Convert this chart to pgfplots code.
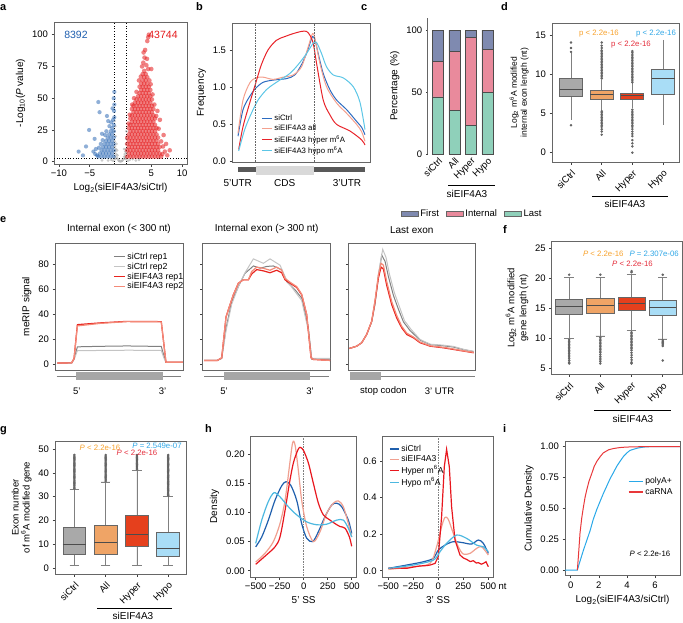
\documentclass[border=0pt]{standalone}
\usepackage{fontspec}
\setmainfont{Liberation Sans}
\usepackage{pgfplots}
\pgfplotsset{compat=1.18}
\usepgfplotslibrary{statistics}

\definecolor{cRed}{HTML}{E41A1C}
\definecolor{cBlue}{HTML}{1F5FAF}
\definecolor{cGray}{HTML}{A8A8A8}
\definecolor{bBlue}{HTML}{2C6BC0}
\definecolor{bSalmon}{HTML}{F4A08E}
\definecolor{bRed}{HTML}{E8232A}
\definecolor{bCyan}{HTML}{5CC6E6}
\definecolor{cFirst}{HTML}{7F8AB0}
\definecolor{cInternal}{HTML}{E98A9C}
\definecolor{cLast}{HTML}{8FD0BA}
\definecolor{bxGray}{HTML}{A9A9A9}
\definecolor{bxOrange}{HTML}{EFA466}
\definecolor{bxRed}{HTML}{E5401D}
\definecolor{bxBlue}{HTML}{A9DDF6}
\definecolor{pOrange}{HTML}{F7A12B}
\definecolor{pRed}{HTML}{E42D3B}
\definecolor{pCyan}{HTML}{2EA6E6}
\definecolor{eG1}{HTML}{808080}
\definecolor{eG2}{HTML}{C4C4C4}
\definecolor{eR1}{HTML}{E8231E}
\definecolor{eR2}{HTML}{F48A78}
\definecolor{hBlue}{HTML}{1F5FAD}
\definecolor{hSalmon}{HTML}{F0A090}
\definecolor{hRed}{HTML}{E8171E}
\definecolor{hCyan}{HTML}{4DB8E0}
\definecolor{iBlue}{HTML}{29A8E8}
\definecolor{iRed}{HTML}{E8383A}

\newcommand\ft[2]{\fontsize{#1}{#2}\selectfont}

\pgfplotsset{
  base/.style={scale only axis, anchor=north west, tick align=outside, tick pos=left,
    major tick length=2.5pt,
    axis line style={line width=0.8pt, black!60},
    tick style={black!75, line width=0.6pt},
    tick label style={font=\ft{9.5}{11}},
    label style={font=\ft{10}{12}},
    title style={font=\ft{10}{12}},
    /pgf/number format/assume math mode=true,
    legend cell align=left,
  },
  bp/.style={boxplot/draw direction=y,
     boxplot/every whisker/.style={black!50, line width=0.8pt},
     boxplot/every median/.style={black!70, line width=1pt}},
  om/.style={mark=*, mark size=0.8pt, mark options={draw=none, fill=black}},
}

\begin{document}
\begin{tikzpicture}
\path[use as bounding box] (0,0) rectangle (683pt,-622pt);

% ---------------- a ----------------
\begin{axis}[base, at={(54pt,-22pt)}, width=133pt, height=142pt,
  xmin=-10.8, xmax=10.8, ymin=-1.8, ymax=110,
  xtick={-10,-5,5,10}, xticklabels={−10,−5,5,10},
  ytick={0,25,50,75,100},
  xlabel={Log\textsubscript{2}(siEIF4A3/siCtrl)},
  ylabel={-Log\textsubscript{10}(\textit{P} value)}]
\addplot[only marks, color=cGray, mark=*, mark size=1.5pt, mark options={fill opacity=0.6, draw opacity=0}] coordinates {
(-0.9,4)(-0.85,8)(-0.9,12)(-0.95,16)(-0.8,20)(-0.7,6)(-0.75,10)(-0.6,3)(-0.5,5)(-0.65,14)(-0.4,2)(-0.3,1)(0.3,1)(0.5,2)(0.6,4)(0.7,6)(0.8,8)(0.9,10)(0.85,4)(0.95,7)(0.9,14)(0.75,3)(-0.2,0.5)(0.2,0.5)(0,0.2)(-1.5,1.5)(-2,1)(1.5,1.5)(2,2)(2.5,1)(3,1.5)(-3,1)(1.2,0.8)(-1.2,0.8)(0.95,18)(-0.95,24)(-0.85,28)(-0.9,2)(0.9,2)(-0.55,9)(0.6,10)(-0.95,32)(0.95,24)};
\addplot[only marks, color=cBlue, mark=*, mark size=2.1pt, mark options={fill opacity=0.5, draw opacity=0}] coordinates {
(-1.1,4)(-1.1,9)(-1.1,14)(-1.1,19)(-1.1,24)(-1.1,29)
(-1.35,6.5)(-1.35,11.5)(-1.35,16.5)(-1.35,21.5)(-1.35,26.5)
(-1.6,4)(-1.6,9)(-1.6,14)(-1.6,19)(-1.6,24)
(-1.85,6.5)(-1.85,11.5)(-1.85,16.5)(-1.85,21.5)
(-2.1,4)(-2.1,9)(-2.1,14)(-2.1,19)
(-2.35,6.5)(-2.35,11.5)(-2.35,16.5)
(-2.6,4)(-2.6,9)(-2.6,14)
(-2.85,6.5)(-2.85,11.5)
(-3.1,4)(-3.1,9)(-3.35,6.5)(-3.6,4)
(-1.0,35)(-1.05,40)(-1.0,45)(-1.1,50)(-1.0,55)(-1.2,33)(-1.5,31)(-1.8,28)(-2.0,32)(-2.3,24)(-2.5,21)(-2.9,17)(-3.2,14)(-3.5,11)(-4.0,10)(-4.4,8)(-3.6,47)(-3.4,39)(-4.1,6)(-5.1,25)(-5.6,12)(-6.1,5)(-6.8,8)(-2.2,36)(-1.3,42)(-3.0,22)(-4.2,18)(-3.8,5)};
\addplot[only marks, color=cRed, mark=*, mark size=2.3pt, mark options={fill opacity=0.55, draw opacity=0}] coordinates {
(1.1,4)(1.1,9)(1.1,14)(1.1,19)
(1.35,6.5)(1.35,11.5)(1.35,16.5)(1.35,21.5)(1.35,26.5)
(1.6,4)(1.6,9)(1.6,14)(1.6,19)(1.6,24)(1.6,29)(1.6,34)
(1.85,6.5)(1.85,11.5)(1.85,16.5)(1.85,21.5)(1.85,26.5)(1.85,31.5)(1.85,36.5)(1.85,41.5)
(2.1,4)(2.1,9)(2.1,14)(2.1,19)(2.1,24)(2.1,29)(2.1,34)(2.1,39)(2.1,44)
(2.35,6.5)(2.35,11.5)(2.35,16.5)(2.35,21.5)(2.35,26.5)(2.35,31.5)(2.35,36.5)(2.35,41.5)(2.35,46.5)
(2.6,4)(2.6,9)(2.6,14)(2.6,19)(2.6,24)(2.6,29)(2.6,34)(2.6,39)(2.6,44)(2.6,49)
(2.85,6.5)(2.85,11.5)(2.85,16.5)(2.85,21.5)(2.85,26.5)(2.85,31.5)(2.85,36.5)(2.85,41.5)(2.85,46.5)(2.85,51.5)
(3.1,4)(3.1,9)(3.1,14)(3.1,19)(3.1,24)(3.1,29)(3.1,34)(3.1,39)(3.1,44)(3.1,49)(3.1,54)(3.1,59)
(3.35,6.5)(3.35,11.5)(3.35,16.5)(3.35,21.5)(3.35,26.5)(3.35,31.5)(3.35,36.5)(3.35,41.5)(3.35,46.5)(3.35,51.5)(3.35,56.5)(3.35,61.5)
(3.6,4)(3.6,9)(3.6,14)(3.6,19)(3.6,24)(3.6,29)(3.6,34)(3.6,39)(3.6,44)(3.6,49)(3.6,54)(3.6,59)(3.6,64)(3.6,69)
(3.85,6.5)(3.85,11.5)(3.85,16.5)(3.85,21.5)(3.85,26.5)(3.85,31.5)(3.85,36.5)(3.85,41.5)(3.85,46.5)(3.85,51.5)(3.85,56.5)(3.85,61.5)(3.85,66.5)(3.85,71.5)
(4.1,4)(4.1,9)(4.1,14)(4.1,19)(4.1,24)(4.1,29)(4.1,34)(4.1,39)(4.1,44)(4.1,49)(4.1,54)(4.1,59)(4.1,64)(4.1,69)
(4.35,6.5)(4.35,11.5)(4.35,16.5)(4.35,21.5)(4.35,26.5)(4.35,31.5)(4.35,36.5)(4.35,41.5)(4.35,46.5)(4.35,51.5)(4.35,56.5)(4.35,61.5)(4.35,66.5)
(4.6,4)(4.6,9)(4.6,14)(4.6,19)(4.6,24)(4.6,29)(4.6,34)(4.6,39)(4.6,44)(4.6,49)(4.6,54)(4.6,59)
(4.85,6.5)(4.85,11.5)(4.85,16.5)(4.85,21.5)(4.85,26.5)(4.85,31.5)(4.85,36.5)(4.85,41.5)(4.85,46.5)(4.85,51.5)(4.85,56.5)
(5.1,4)(5.1,9)(5.1,14)(5.1,19)(5.1,24)(5.1,29)(5.1,34)(5.1,39)(5.1,44)(5.1,49)
(5.35,6.5)(5.35,11.5)(5.35,16.5)(5.35,21.5)(5.35,26.5)(5.35,31.5)(5.35,36.5)(5.35,41.5)
(5.6,4)(5.6,9)(5.6,14)(5.6,19)(5.6,24)(5.6,29)(5.6,34)
(5.85,6.5)(5.85,11.5)(5.85,16.5)(5.85,21.5)(5.85,26.5)
(6.1,4)(6.1,9)(6.1,14)(6.1,19)
(6.35,6.5)(6.35,11.5)(6.6,4)
(1.3,30)(1.5,37)(1.9,45)(2.2,50)(2.6,55)(3.0,64)(3.3,67)(3.5,75)(3.7,78)(3.75,86)(3.9,82)(4.0,88)(4.2,76)(4.3,81)(4.5,73)(4.7,64)(4.9,61)(5.0,73)(5.2,53)(5.5,45)(5.8,36)(6.0,40)(6.2,26)(6.4,33)(6.6,16)(6.9,12)(7.0,21)(7.2,8)(7.6,5)(8.0,9)(4.5,98)(4.6,100)(4.35,95)(7.4,14)(6.8,6)};
\addplot[only marks, color=cRed, mark=*, mark size=1.2pt, mark options={fill opacity=0.8, draw opacity=0}] coordinates {
(3.7,110.6)(4.0,110.6)(4.3,110.6)(4.6,110.6)(4.9,110.6)(5.2,110.6)(5.5,110.6)(5.8,110.6)(6.1,110.6)(6.4,110.6)(6.7,110.6)(7.0,110.6)(7.3,110.6)};
\draw[dotted, line width=0.7pt] (axis cs:-1,-1.8) -- (axis cs:-1,110);
\draw[dotted, line width=0.7pt] (axis cs:1,-1.8) -- (axis cs:1,110);
\draw[dotted, line width=0.7pt] (axis cs:-10.8,3) -- (axis cs:10.8,3);
\end{axis}
\node[font=\ft{10.5}{12}, text=cBlue] at (76pt,-35pt) {8392};
\node[font=\ft{10.5}{12}, text=cRed] at (163pt,-35pt) {43744};

% ---------------- b ----------------
\begin{axis}[base, at={(232pt,-23pt)}, width=138pt, height=139pt,
  xmin=187, xmax=600, ymin=-0.01, ymax=1.874,
  xtick=\empty, ytick={0,0.5,1,1.5}, yticklabels={0.0,0.5,1.0,1.5},
  ylabel={Frequency}, clip=false,
  legend style={at={(0.19,0.367)}, anchor=north west, draw=none, fill=none, font=\ft{7.8}{9}, row sep=-1pt},
  legend image code/.code={\draw[#1, line width=1pt] (0pt,0pt) -- (10pt,0pt);}]
\addplot[bBlue, line width=1pt, smooth] coordinates {(205,0.34)(220,0.70)(240,0.88)(258,0.99)(280,1.07)(310,1.10)(350,1.12)(375,1.17)(395,1.31)(410,1.46)(422,1.62)(428,1.69)(435,1.65)(445,1.46)(460,1.19)(480,0.97)(500,0.83)(530,0.70)(560,0.54)(575,0.46)(585,0.36)};
\addlegendentry{siCtrl}
\addplot[bSalmon, line width=1pt, smooth] coordinates {(205,0.38)(220,0.83)(240,1.06)(258,1.13)(280,1.14)(310,1.11)(340,1.14)(370,1.17)(395,1.28)(415,1.55)(428,1.73)(435,1.67)(450,1.33)(470,1.01)(500,0.79)(530,0.65)(560,0.50)(575,0.40)(585,0.27)};
\addlegendentry{siEIF4A3 all}
\addplot[bRed, line width=1pt, smooth] coordinates {(207,0.16)(220,0.47)(240,0.79)(258,1.06)(275,1.31)(295,1.51)(320,1.64)(345,1.69)(370,1.73)(395,1.76)(410,1.76)(420,1.71)(430,1.60)(440,1.33)(460,0.83)(480,0.63)(500,0.50)(540,0.41)(575,0.29)(585,0.22)};
\addlegendentry{siEIF4A3 hyper m\textsuperscript{6}A}
\addplot[bCyan, line width=1pt, smooth] coordinates {(207,0.14)(225,0.43)(245,0.65)(265,0.83)(290,0.97)(310,1.04)(330,1.10)(360,1.19)(385,1.31)(410,1.46)(430,1.60)(440,1.61)(455,1.46)(470,1.28)(490,1.17)(520,1.13)(550,1.01)(570,0.80)(585,0.43)};
\addlegendentry{siEIF4A3 hypo m\textsuperscript{6}A}
\draw[densely dotted, black!60, line width=0.6pt] (axis cs:258,-0.01) -- (axis cs:258,1.874);
\draw[densely dotted, black!60, line width=0.6pt] (axis cs:432,-0.01) -- (axis cs:432,1.874);
\draw[line width=4.5pt, black!65] (axis cs:205,-0.112) -- (axis cs:585,-0.112);
\fill[black!15] (axis cs:258,-0.058) rectangle (axis cs:432,-0.19);
\node[font=\ft{10}{12}] at (axis cs:204,-0.29) {5'UTR};
\node[font=\ft{10}{12}] at (axis cs:345,-0.29) {CDS};
\node[font=\ft{10}{12}] at (axis cs:531,-0.29) {3'UTR};
\end{axis}

% ---------------- c ----------------
\begin{axis}[base, at={(427pt,-18pt)}, width=68pt, height=136pt,
  xmin=0.34, xmax=4.45, ymin=0, ymax=109.7,
  separate axis lines, axis x line=bottom, axis y line=left,
  x axis line style={draw=none}, y axis line style={-},
  ybar stacked, bar width=11.3pt,
  xtick={1,2,3,4}, xticklabels={siCtrl,All,Hyper,Hypo},
  xticklabel style={rotate=45, anchor=north east, inner sep=1pt},
  ytick={0,50,100},
  ylabel={Percentage (\%)},
  legend style={at={(-0.43,-0.44)}, anchor=west, draw=none, fill=none, legend columns=3, font=\ft{9.5}{11}, /tikz/every even column/.append style={column sep=5pt}}]
\addlegendimage{area legend, fill=cFirst, draw=black!60}\addlegendentry{First}
\addlegendimage{area legend, fill=cInternal, draw=black!60}\addlegendentry{Internal}
\addlegendimage{area legend, fill=cLast, draw=black!60}\addlegendentry{Last}
\addplot[fill=cLast, draw=black!70] coordinates {(1,46)(2,35)(3,23)(4,50)};
\addplot[fill=cInternal, draw=black!70] coordinates {(1,29)(2,48)(3,71)(4,34.5)};
\addplot[fill=cFirst, draw=black!70] coordinates {(1,25)(2,17)(3,6)(4,15.5)};
\end{axis}

% ---------------- d ----------------
\begin{axis}[base, bp, at={(552pt,-23pt)}, width=127pt, height=139pt,
  xmin=0.38, xmax=4.52, ymin=-1.2, ymax=16.6,
  xtick={1,2,3,4}, xticklabels={siCtrl,All,Hyper,Hypo}, xticklabel style={rotate=45, anchor=north east},
  ytick={0,5,10,15},
  ylabel={Log\textsubscript{2} m\textsuperscript{6}A modified\\internal exon length (nt)}, ylabel style={align=center, font=\ft{8.5}{10}},
  boxplot/box extend=0.75, boxplot/whisker extend=0]
\addplot[draw=black!60, fill=bxGray, line width=0.8pt, om,
  boxplot prepared={draw position=1, median=8.03, upper quartile=9.49, lower quartile=7.18, upper whisker=12.7, lower whisker=4.19}]
  table[row sep=\\, y index=0] {12.9\\13.4\\14.1\\3.5\\};
\addplot[draw=black!60, fill=bxOrange, line width=0.8pt, om,
  boxplot prepared={draw position=2, median=7.39, upper quartile=7.95, lower quartile=6.88, upper whisker=9.32, lower whisker=5.47}]
  table[row sep=\\, y index=0] {9.5\\9.7\\9.9\\10.1\\10.3\\10.5\\10.7\\10.9\\11.1\\11.3\\11.5\\11.7\\11.9\\12.1\\12.3\\12.5\\12.7\\12.9\\13.1\\13.4\\13.7\\14.1\\5.3\\5.1\\4.9\\4.7\\4.5\\4.3\\4.1\\3.9\\3.7\\3.5\\3.3\\3.0\\2.7\\2.3\\};
\addplot[draw=black!60, fill=bxRed, line width=0.8pt, om,
  boxplot prepared={draw position=3, median=7.26, upper quartile=7.61, lower quartile=6.84, upper whisker=8.89, lower whisker=5.68}]
  table[row sep=\\, y index=0] {9.0\\9.2\\9.4\\9.6\\9.8\\10.0\\10.2\\10.4\\10.6\\10.8\\11.0\\11.2\\11.4\\11.6\\11.8\\12.0\\12.2\\12.4\\12.6\\12.8\\13.0\\5.5\\5.3\\5.1\\4.9\\4.7\\4.5\\4.3\\4.1\\3.9\\3.7\\3.5\\3.3\\3.0\\2.7\\2.4\\2.1\\1.6\\1.2\\0.8\\0.0\\};
\addplot[draw=black!60, fill=bxBlue, line width=0.8pt, om,
  boxplot prepared={draw position=4, median=9.53, upper quartile=10.68, lower quartile=7.52, upper whisker=14.44, lower whisker=3.55}]
  coordinates {};
\end{axis}
\node[font=\ft{7.8}{9}, text=pOrange] at (599pt,-33.3pt) {p < 2.2e-16};
\node[font=\ft{7.8}{9}, text=pRed] at (631pt,-45pt) {p < 2.2e-16};
\node[font=\ft{7.8}{9}, text=pCyan] at (656pt,-33.3pt) {p < 2.2e-16};

% ---------------- e ----------------
\begin{axis}[base, at={(55pt,-243pt)}, width=128pt, height=127pt,
  xmin=165, xmax=548, ymin=-4.2, ymax=96.6, xtick=\empty, ytick={0,20,40,60,80},
  ylabel={meRIP signal}, title={Internal exon (< 300 nt)}, clip=false,
  legend style={at={(0.43,0.955)}, anchor=north west, draw=none, fill=none, font=\ft{8.8}{10}, row sep=-2pt},
  legend image code/.code={\draw[#1] (0pt,0pt) -- (11pt,0pt);}]
\addplot[eG1, line width=1pt] coordinates {(172,1.3)(215,1.5)(222,4.5)(232,14.2)(300,14.6)(380,14.9)(483,14.5)(490,8)(497,1.8)(548,1.8)};
\addlegendentry{siCtrl rep1}
\addplot[eG2, line width=1pt] coordinates {(172,1.3)(215,1.5)(222,4)(232,11.2)(300,11.3)(380,11.5)(483,11.4)(490,6)(497,1.8)(548,1.8)};
\addlegendentry{siCtrl rep2}
\addplot[eR1, line width=1.2pt] coordinates {(172,1.3)(215,1.5)(222,5)(232,31.8)(300,33.2)(380,34.4)(483,34.2)(497,1.9)(548,1.9)};
\addlegendentry{siEIF4A3 rep1}
\addplot[eR2, line width=1.2pt] coordinates {(172,1.3)(215,1.5)(222,5)(232,30.8)(300,32.8)(380,34.2)(483,34.0)(497,2.0)(548,2.0)};
\addlegendentry{siEIF4A3 rep2}
\draw[black!50, line width=0.8pt] (axis cs:170,-9.2) -- (axis cs:543,-9.2);
\fill[black!35] (axis cs:228,-6.1) rectangle (axis cs:487,-12.4);
\node[font=\ft{9.5}{11}] at (axis cs:230,-21) {5'};
\node[font=\ft{9.5}{11}] at (axis cs:487,-21) {3'};
\end{axis}

\begin{axis}[base, at={(202.7pt,-243pt)}, width=128pt, height=127pt,
  xmin=608, xmax=992, ymin=-4.2, ymax=96.6, xtick=\empty, ytick={0,20,40,60,80}, yticklabels={},
  title={Internal exon (> 300 nt)}, clip=false]
\addplot[eG1, line width=1pt] coordinates {(612,3.4)(652,3.4)(665,5)(678,29)(695,50)(715,62)(735,72.6)(750,76)(760,78.4)(780,76.6)(800,78)(820,78.4)(845,75.3)(860,66)(885,59.5)(905,52.9)(925,29.2)(935,4.5)(990,4.5)};
\addplot[eG2, line width=1pt] coordinates {(612,3.4)(652,3.4)(665,5)(678,27)(695,48)(715,62)(735,73)(760,84)(790,80.5)(810,84)(840,79)(860,67)(885,58)(905,51)(925,27)(935,5)(990,5)};
\addplot[eR1, line width=1.2pt] coordinates {(612,3.4)(652,3.4)(665,5.5)(678,38)(690,47.6)(700,55.5)(715,64.7)(730,67.4)(745,67.4)(755,72)(770,75.5)(790,74.5)(810,73)(830,75)(845,73)(855,67.4)(870,64.7)(890,61.3)(905,55.5)(920,39.7)(933,5.5)(940,4.2)(990,3.4)};
\addplot[eR2, line width=1.2pt] coordinates {(612,3.4)(652,3.4)(665,5.5)(678,38)(690,47.6)(700,55.5)(715,64.7)(730,67.4)(745,67.4)(755,74)(770,77.5)(790,76.5)(810,75)(830,77.5)(845,75)(855,68.5)(870,65.5)(890,62)(905,56)(920,40)(933,5.5)(940,4.2)(990,3.4)};
\draw[black!50, line width=0.8pt] (axis cs:613,-9.2) -- (axis cs:987,-9.2);
\fill[black!35] (axis cs:672,-6.1) rectangle (axis cs:930,-12.4);
\node[font=\ft{9.5}{11}] at (axis cs:672,-21) {5'};
\node[font=\ft{9.5}{11}] at (axis cs:930,-21) {3'};
\end{axis}

\begin{axis}[base, at={(348.3pt,-243pt)}, width=127pt, height=127pt,
  xmin=1045, xmax=1425, ymin=-4.2, ymax=96.6, xtick=\empty, ytick={0,20,40,60,80}, yticklabels={},
  title={Last exon}, clip=false]
\addplot[eG1, line width=1pt] coordinates {(1048,12.9)(1070,14.7)(1085,17.4)(1100,24)(1115,34)(1125,48)(1135,70)(1145,87)(1155,82)(1165,70)(1180,55)(1195,44)(1210,34)(1230,27)(1260,19.5)(1290,16)(1330,15)(1360,14)(1390,12)(1420,10.5)};
\addplot[eG2, line width=1pt] coordinates {(1048,12.9)(1070,14.7)(1085,17.4)(1100,24)(1115,34)(1125,49)(1135,72)(1148,91.6)(1158,85)(1168,72)(1183,57)(1198,46)(1213,35)(1233,28)(1260,20)(1290,16.3)(1330,15.5)(1360,14.5)(1390,12.2)(1420,10.6)};
\addplot[eR1, line width=1.2pt] coordinates {(1048,12.9)(1070,14.7)(1085,17.4)(1100,24)(1115,34.5)(1125,50)(1135,68.7)(1143,77.5)(1150,76)(1160,63)(1175,47.6)(1190,37)(1205,29.2)(1220,24)(1240,21.3)(1260,17.4)(1290,14.7)(1330,13.4)(1360,12.1)(1390,10.8)(1420,9.5)};
\addplot[eR2, line width=1.2pt] coordinates {(1048,12.9)(1070,14.7)(1085,17.4)(1100,24)(1115,34.5)(1125,51)(1135,71)(1143,80.5)(1150,79)(1160,66)(1175,50)(1190,39)(1205,30.5)(1220,25)(1240,22)(1260,18)(1290,15)(1330,13.8)(1360,12.5)(1390,11)(1420,9.8)};
\draw[black!50, line width=0.8pt] (axis cs:1143,-9.2) -- (axis cs:1425,-9.2);
\fill[black!35] (axis cs:1050,-6.1) rectangle (axis cs:1143,-12.4);
\node[font=\ft{9.5}{11}] at (axis cs:1150,-21) {stop codon};
\node[font=\ft{9.5}{11}] at (axis cs:1318,-21) {3' UTR};
\end{axis}

% ---------------- f ----------------
\begin{axis}[base, bp, at={(551.7pt,-241.7pt)}, width=131pt, height=132.6pt,
  xmin=0.44, xmax=4.64, ymin=4.0, ymax=26.1,
  xtick={1,2,3,4}, xticklabels={siCtrl,All,Hyper,Hypo}, xticklabel style={rotate=45, anchor=north east},
  ytick={5,10,15,20,25},
  ylabel={Log\textsubscript{2} m\textsuperscript{6}A modified\\gene length (nt)}, ylabel style={align=center, font=\ft{9.5}{12}},
  boxplot/box extend=0.87, boxplot/whisker extend=0.3]
\addplot[draw=black!60, fill=bxGray, line width=0.8pt, om,
  boxplot prepared={draw position=1, median=15.28, upper quartile=16.5, lower quartile=14.06, upper whisker=20.2, lower whisker=10.0}]
  table[row sep=\\, y index=0] {20.6\\9.75\\9.5\\9.25\\9.0\\8.75\\8.5\\8.25\\8.0\\7.75\\7.5\\7.2\\6.9\\6.6\\6.3\\6.0\\5.8\\};
\addplot[draw=black!60, fill=bxOrange, line width=0.8pt, om,
  boxplot prepared={draw position=2, median=15.39, upper quartile=16.67, lower quartile=14.17, upper whisker=20.2, lower whisker=10.4}]
  table[row sep=\\, y index=0] {20.6\\10.1\\9.85\\9.6\\9.35\\9.1\\8.85\\8.6\\8.35\\8.1\\7.85\\7.6\\7.3\\7.0\\6.7\\6.4\\6.1\\5.8\\};
\addplot[draw=black!60, fill=bxRed, line width=0.8pt, om,
  boxplot prepared={draw position=3, median=15.72, upper quartile=16.83, lower quartile=14.6, upper whisker=20.6, lower whisker=11.3}]
  table[row sep=\\, y index=0] {21.0\\21.2\\11.0\\10.75\\10.5\\10.25\\10.0\\9.75\\9.5\\9.25\\9.0\\8.75\\8.5\\8.25\\8.0\\7.6\\7.2\\6.8\\6.4\\6.0\\5.8\\};
\addplot[draw=black!60, fill=bxBlue, line width=0.8pt, om,
  boxplot prepared={draw position=4, median=15.1, upper quartile=16.4, lower quartile=13.8, upper whisker=20.2, lower whisker=9.9}]
  table[row sep=\\, y index=0] {20.6\\9.7\\9.5\\9.3\\9.1\\8.9\\8.7\\6.3\\};
\end{axis}
\node[font=\ft{7.8}{9}, text=pOrange] at (603.3pt,-254.3pt) {\textit{P} < 2.2e-16};
\node[font=\ft{7.8}{9}, text=pCyan, anchor=west] at (626pt,-254.3pt) {\textit{P} = 2.307e-06};
\node[font=\ft{7.8}{9}, text=pRed] at (632.5pt,-264.3pt) {\textit{P} < 2.2e-16};

% ---------------- g ----------------
\begin{axis}[base, bp, at={(55pt,-441pt)}, width=131pt, height=133pt,
  xmin=0.38, xmax=4.57, ymin=-2.4, ymax=53.35,
  xtick={1,2,3,4}, xticklabels={siCtrl,All,Hyper,Hypo}, xticklabel style={rotate=45, anchor=north east},
  ytick={0,10,20,30,40,50},
  ylabel={Exon number\\of m\textsuperscript{6}A modified gene}, ylabel style={align=center, font=\ft{9.5}{11}},
  boxplot/box extend=0.73, boxplot/whisker extend=0.3]
\addplot[draw=black!60, fill=bxGray, line width=0.8pt, om,
  boxplot prepared={draw position=1, median=10.05, upper quartile=17.0, lower quartile=6.0, upper whisker=33.1, lower whisker=1.1}]
  table[row sep=\\, y index=0] {33.5\\34\\34.5\\35\\35.5\\36\\36.5\\37\\37.5\\38\\38.5\\39\\39.5\\40\\40.5\\41\\41.5\\42\\42.5\\43\\43.5\\44\\44.5\\45\\45.5\\46\\46.5\\47\\47.5\\};
\addplot[draw=black!60, fill=bxOrange, line width=0.8pt, om,
  boxplot prepared={draw position=2, median=11.0, upper quartile=18.0, lower quartile=6.0, upper whisker=36.2, lower whisker=1.1}]
  table[row sep=\\, y index=0] {36.5\\37\\37.5\\38\\38.5\\39\\39.5\\40\\40.5\\41\\41.5\\42\\42.5\\43\\43.5\\44\\44.5\\45\\45.5\\46\\46.5\\47\\47.5\\};
\addplot[draw=black!60, fill=bxRed, line width=0.8pt, om,
  boxplot prepared={draw position=3, median=14.1, upper quartile=22.1, lower quartile=9.1, upper whisker=40.9, lower whisker=1.1}]
  table[row sep=\\, y index=0] {41.5\\42\\42.5\\43\\43.5\\44\\44.5\\45\\45.5\\46\\46.5\\47\\47.5\\};
\addplot[draw=black!60, fill=bxBlue, line width=0.8pt, om,
  boxplot prepared={draw position=4, median=8.1, upper quartile=15.1, lower quartile=5.0, upper whisker=30.2, lower whisker=1.1}]
  table[row sep=\\, y index=0] {30.5\\31\\31.5\\32\\32.5\\33\\33.5\\34\\34.5\\35\\35.5\\36\\36.5\\37\\37.5\\38\\38.5\\39\\39.5\\40\\40.5\\41\\41.5\\42\\42.5\\43\\43.5\\44\\44.5\\45\\45.5\\46\\46.5\\47\\47.5\\};
\end{axis}
\node[font=\ft{7.8}{9}, text=pOrange] at (100pt,-448.3pt) {\textit{P} < 2.2e-16};
\node[font=\ft{7.8}{9}, text=pCyan] at (157pt,-445.7pt) {\textit{P} = 2.549e-07};
\node[font=\ft{7.8}{9}, text=pRed] at (137pt,-453.3pt) {\textit{P} < 2.2e-16};

% ---------------- h ----------------
\begin{axis}[base, at={(250.7pt,-436pt)}, width=106pt, height=141.3pt,
  xmin=-552, xmax=552, ymin=-0.0113, ymax=0.2315,
  xtick={-500,-250,0,250,500}, xticklabels={−500,−250,0,250,500},
  ytick={0,0.05,0.1,0.15,0.2}, yticklabels={0.00,0.05,0.10,0.15,0.20},
  xlabel={5' SS}, ylabel={Density}]
\draw[densely dotted, black!50, line width=0.6pt] (axis cs:0,-0.0113) -- (axis cs:0,0.2315);
\addplot[hBlue, line width=1.2pt, smooth] coordinates {(-500,0.041)(-437,0.058)(-368,0.087)(-299,0.121)(-229,0.146)(-184,0.153)(-135,0.147)(-73,0.121)(-21,0.081)(31,0.056)(94,0.050)(153,0.067)(222,0.093)(292,0.113)(344,0.116)(396,0.110)(465,0.087)(500,0.064)};
\addplot[hSalmon, line width=1.2pt, smooth] coordinates {(-500,0.015)(-403,0.030)(-316,0.050)(-247,0.081)(-194,0.121)(-149,0.179)(-115,0.220)(-90,0.216)(-56,0.173)(-21,0.121)(31,0.076)(101,0.050)(170,0.067)(240,0.099)(309,0.116)(361,0.120)(413,0.110)(465,0.081)(500,0.058)};
\addplot[hRed, line width=1.2pt, smooth] coordinates {(-500,0.011)(-403,0.025)(-299,0.041)(-247,0.058)(-194,0.104)(-149,0.150)(-108,0.185)(-62,0.207)(-38,0.212)(-3,0.207)(49,0.185)(101,0.150)(153,0.116)(205,0.096)(274,0.087)(326,0.081)(378,0.076)(431,0.073)(476,0.058)(500,0.042)};
\addplot[hCyan, line width=1.2pt, smooth] coordinates {(-500,0.047)(-437,0.087)(-368,0.119)(-309,0.134)(-247,0.127)(-160,0.110)(-73,0.096)(31,0.084)(135,0.079)(240,0.080)(344,0.087)(413,0.087)(465,0.073)(500,0.058)};
\end{axis}

\begin{axis}[base, at={(382.7pt,-436pt)}, width=110.6pt, height=141.3pt,
  xmin=-556, xmax=550, ymin=-0.036, ymax=0.737,
  xtick={-500,-250,0,250,500}, xticklabels={−500,−250,0,250,500},
  ytick={0,0.2,0.4,0.6}, yticklabels={0.0,0.2,0.4,0.6},
  xlabel={3' SS},
  legend style={at={(0.03,0.965)}, anchor=north west, draw=none, fill=none, font=\ft{8.6}{10}, row sep=-1.5pt},
  legend image code/.code={\draw[#1, line width=1.2pt] (0pt,0pt) -- (9pt,0pt);}]
\draw[densely dotted, black!50, line width=0.6pt] (axis cs:0,-0.036) -- (axis cs:0,0.737);
\addplot[hBlue, line width=1.2pt, smooth] coordinates {(-500,0.013)(-317,0.031)(-150,0.049)(-50,0.068)(0,0.113)(67,0.140)(150,0.159)(250,0.153)(333,0.146)(400,0.168)(450,0.150)(500,0.095)};
\addlegendentry{siCtrl}
\addplot[hSalmon, line width=1.2pt, smooth] coordinates {(-500,0.007)(-250,0.022)(-83,0.040)(-17,0.131)(33,0.241)(67,0.292)(100,0.281)(150,0.204)(200,0.131)(250,0.091)(317,0.095)(383,0.122)(433,0.131)(500,0.086)};
\addlegendentry{siEIF4A3}
\addplot[hRed, line width=1.2pt] coordinates {(-500,0.013)(-420,0.015)(-317,0.013)(-250,0.020)(-183,0.026)(-120,0.028)(-83,0.031)(-33,0.040)(0,0.077)(33,0.296)(60,0.569)(83,0.664)(110,0.569)(133,0.350)(167,0.168)(217,0.086)(250,0.070)(283,0.062)(320,0.050)(350,0.055)(380,0.042)(400,0.044)(430,0.036)(450,0.040)(477,0.049)(500,0.022)};
\addlegendentry{Hyper m\textsuperscript{6}A}
\addplot[hCyan, line width=1.2pt, smooth] coordinates {(-500,0.013)(-250,0.031)(-50,0.058)(17,0.104)(83,0.150)(183,0.195)(283,0.177)(383,0.140)(450,0.131)(500,0.104)};
\addlegendentry{Hypo m\textsuperscript{6}A}
\end{axis}
\node[font=\ft{9.5}{11}, anchor=west] at (495pt,-586.5pt) {nt};

% ---------------- i ----------------
\begin{axis}[base, at={(565pt,-441pt)}, width=115pt, height=134.7pt,
  xmin=-0.41, xmax=7.78, ymin=-0.046, ymax=1.046,
  xtick={0,2,4,6}, ytick={0,0.25,0.5,0.75,1}, yticklabels={0.00,0.25,0.50,0.75,1.00},
  xlabel={Log\textsubscript{2}(siEIF4A3/siCtrl)}, ylabel={Cumulative Density},
  legend style={at={(0.52,0.76)}, anchor=north west, draw=none, fill=none, font=\ft{8.6}{10}, row sep=-1pt},
  legend image code/.code={\draw[#1, line width=1.3pt] (0pt,0pt) -- (14pt,0pt);}]
\addplot[draw=iBlue, line width=1pt] coordinates {(-0.41,0)(0.47,0)(0.6,0.05)(0.90,0.16)(1.14,0.24)(1.38,0.32)(1.6,0.41)(1.85,0.49)(2.1,0.56)(2.32,0.62)(2.56,0.68)(2.8,0.74)(3.04,0.79)(3.27,0.84)(3.5,0.88)(3.75,0.92)(4.0,0.95)(4.22,0.97)(4.5,0.98)(4.81,0.99)(5.2,0.997)(5.64,1.0)(7.78,1.0)};
\addlegendentry{polyA+}
\addplot[draw=iRed, line width=1pt] coordinates {(0.47,0)(0.55,0.12)(0.66,0.30)(0.78,0.42)(0.90,0.51)(1.02,0.59)(1.14,0.65)(1.3,0.72)(1.49,0.78)(1.67,0.84)(1.85,0.88)(2.1,0.92)(2.32,0.95)(2.7,0.975)(3.04,0.985)(3.5,0.993)(3.98,0.997)(5,1)(7.78,1)};
\addlegendentry{caRNA}
\end{axis}
\node[font=\ft{7.8}{9}] at (650pt,-554pt) {\textit{P} < 2.2e-16};

% group labels
\draw[black, line width=0.7pt] (448pt,-185pt) -- (495pt,-185pt);
\node[font=\ft{10}{12}] at (467pt,-194pt) {siEIF4A3};
\draw[black, line width=0.7pt] (592pt,-196pt) -- (668pt,-196pt);
\node[font=\ft{10}{12}] at (625pt,-204.3pt) {siEIF4A3};
\draw[black, line width=0.7pt] (594pt,-410.7pt) -- (671pt,-410.7pt);
\node[font=\ft{10}{12}] at (633pt,-419.3pt) {siEIF4A3};
\draw[black, line width=0.7pt] (97pt,-608pt) -- (172pt,-608pt);
\node[font=\ft{10}{12}] at (133pt,-615.5pt) {siEIF4A3};

% panel letters
\begin{scope}[every node/.style={font=\bfseries\ft{11}{13}, anchor=base west, inner sep=0pt}]
\node at (0pt,-10pt) {a};
\node at (196pt,-10pt) {b};
\node at (361pt,-10pt) {c};
\node at (501pt,-10pt) {d};
\node at (0pt,-222pt) {e};
\node at (503pt,-233pt) {f};
\node at (0pt,-432pt) {g};
\node at (205pt,-432pt) {h};
\node at (503pt,-432pt) {i};
\end{scope}
\end{tikzpicture}
\end{document}
